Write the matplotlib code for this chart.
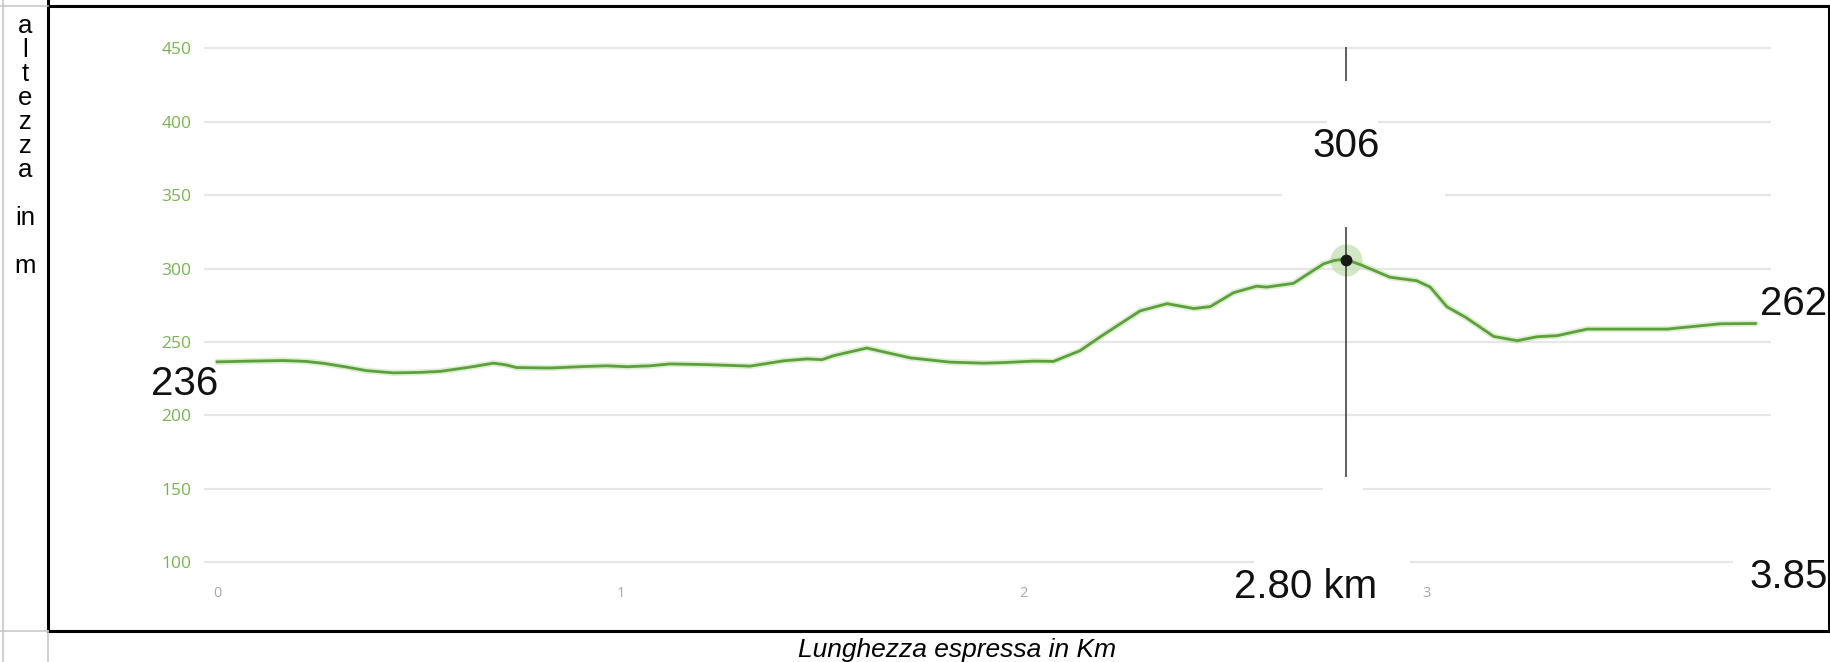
import matplotlib
matplotlib.use("Agg")
import matplotlib.pyplot as plt
from matplotlib.patches import Rectangle
from matplotlib.lines import Line2D

# elevation profile (km, metres)
dist_km = [0.000, 0.080, 0.164, 0.220, 0.264, 0.320, 0.371, 0.437, 0.500, 0.553,
           0.627, 0.685, 0.715, 0.743, 0.826, 0.908, 0.966, 1.016, 1.074, 1.124,
           1.215, 1.322, 1.405, 1.463, 1.500, 1.529, 1.611, 1.719, 1.818, 1.901,
           1.950, 2.025, 2.074, 2.140, 2.190, 2.289, 2.356, 2.422, 2.463, 2.521,
           2.578, 2.603, 2.669, 2.744, 2.769, 2.796, 2.835, 2.909, 2.975, 3.008,
           3.050, 3.097, 3.166, 3.224, 3.274, 3.323, 3.398, 3.596, 3.728, 3.815]
elev_m = [236.5, 237.0, 237.4, 236.8, 235.5, 233.0, 230.5, 229.0, 229.3, 230.0,
          232.9, 235.6, 234.5, 232.6, 232.3, 233.3, 233.8, 233.2, 233.8, 235.1,
          234.6, 233.6, 237.2, 238.5, 238.0, 240.7, 245.9, 239.2, 236.3, 235.6,
          236.0, 237.0, 236.8, 244.1, 253.5, 271.2, 276.1, 272.8, 274.1, 283.6,
          288.0, 287.4, 289.9, 303.2, 305.4, 306.5, 302.7, 294.1, 291.7, 287.5,
          274.0, 266.7, 253.8, 250.9, 253.6, 254.3, 258.8, 258.8, 262.4, 262.6]

y_ticks = [100, 150, 200, 250, 300, 350, 400, 450]
x_ticks = [0, 1, 2, 3]
total_km = 3.85
peak_km, peak_m = 2.80, 306
start_m, end_m = 236, 262

W, H = 1831, 662
fig = plt.figure(figsize=(W / 100, H / 100), dpi=100)
fig.patch.set_facecolor("white")

ax = fig.add_axes([204 / W, 87 / H, 1567 / W, 535 / H])
ax.set_xlim(-0.0327, 3.8537)
ax.set_ylim(91.4, 455.6)
for s in ax.spines.values():
    s.set_visible(False)

ax.set_yticks(y_ticks)
ax.set_yticklabels([str(v) for v in y_ticks], family="Open Sans", fontsize=12.5, color="#78b350")
ax.set_xticks(x_ticks)
ax.set_xticklabels([str(v) for v in x_ticks], family="Open Sans", fontsize=10.5, color="#a8a8a8")
ax.tick_params(axis="y", length=0, pad=9)
ax.tick_params(axis="x", length=0, pad=8)
ax.set_axisbelow(True)
ax.grid(axis="y", color="#e7e7e7", lw=1.6)
ax.grid(axis="x", visible=False)

# white gaps left in the grid by the label boxes
gaps = [(2.753, 2.879, 400), (2.641, 3.045, 350), (2.743, 2.842, 150),
        (2.571, 2.959, 100), (3.760, 3.87, 100)]
for x0, x1, gy in gaps:
    ax.add_patch(Rectangle((x0, gy - 4), x1 - x0, 8, color="white", lw=0, zorder=1))

ax.plot(dist_km, elev_m, color="#9fd07f", lw=4.5, alpha=0.35, zorder=2, solid_capstyle="round")
ax.plot(dist_km, elev_m, color="#5ba03a", lw=2, zorder=3)

# marker at the highest point
ax.vlines(peak_km, 427.7, 450.8, color="#333333", lw=1.1, zorder=4)
ax.vlines(peak_km, 158.2, 328.3, color="#333333", lw=1.1, zorder=4)
ax.plot(peak_km, peak_m, "o", ms=23, color="#c3e0b0", alpha=0.75, mec="none", zorder=2.5)
ax.plot(peak_km, peak_m, "o", ms=8.5, color="#1a1a1a", mec="none", zorder=5)

big = dict(family="Liberation Sans", fontsize=29, color="#111111", clip_on=False)
ax.text(peak_km, 376, str(peak_m), ha="center", va="baseline", **big)
ax.text(2.699, 75.8, "%.2f km" % peak_km, ha="center", va="baseline", **big)
ax.text(3.995, 82.6, "%.2f" % total_km, ha="right", va="baseline", **big)
ax.text(3.992, 268.4, str(end_m), ha="right", va="baseline", **big)
ax.text(0.002, 214, str(start_m), ha="right", va="baseline", **big)

# table frame around the chart
fig.patches.append(Rectangle((48 / W, 31 / H), 1781 / W, 625 / H, transform=fig.transFigure,
                             fill=False, ec="black", lw=2.2))
fig.lines.append(Line2D([48 / W, 48 / W], [656 / H, 1], transform=fig.transFigure, color="black", lw=2.2))
grey = "#c4c4c4"
fig.lines.append(Line2D([3.5 / W, 3.5 / W], [0, 1], transform=fig.transFigure, color=grey, lw=1.1))
fig.lines.append(Line2D([0, 48 / W], [656 / H, 656 / H], transform=fig.transFigure, color=grey, lw=1.1))
fig.lines.append(Line2D([0, 48 / W], [31 / H, 31 / H], transform=fig.transFigure, color=grey, lw=1.1))
fig.lines.append(Line2D([48 / W, 48 / W], [0, 31 / H], transform=fig.transFigure, color=grey, lw=1.1))

fig.text(25 / W, 1 - 146 / H, "a\nl\nt\ne\nz\nz\na\n\nin\n\nm", ha="center", va="center",
         family="Liberation Sans", fontsize=18.5, linespacing=1.0)
fig.text(957 / W, 1 - 650 / H, "Lunghezza espressa in Km", ha="center", va="center",
         family="Liberation Sans", style="italic", fontsize=19)

fig.savefig("out.png", dpi=100, facecolor="white")
